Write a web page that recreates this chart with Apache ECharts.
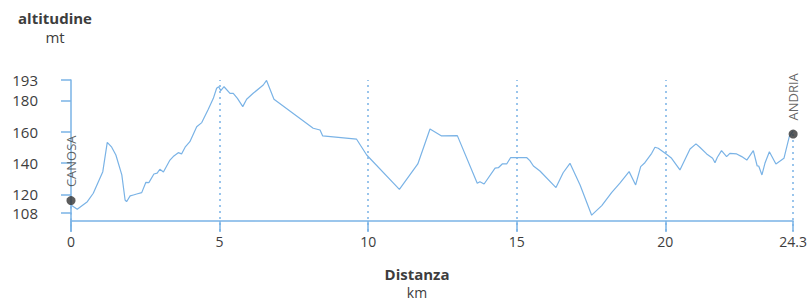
<!DOCTYPE html>
<html>
<head>
<meta charset="utf-8">
<script src="https://cdn.jsdelivr.net/npm/echarts@6/dist/echarts.min.js"></script>
<style>
html,body{margin:0;padding:0;background:#fff;}
#chart{width:810px;height:300px;}
</style>
</head>
<body>
<div id="chart"></div>
<script>
// distance (km) along the route
const distanceKm = [0,0.21,0.55,0.75,1.07,1.22,1.37,1.51,1.71,1.82,1.87,1.99,2.10,2.21,2.38,2.52,2.62,2.79,2.90,2.99,3.11,3.33,3.44,3.61,3.72,3.84,4.00,4.23,4.40,4.62,4.79,4.90,4.97,5.04,5.15,5.35,5.46,5.60,5.78,5.91,6.13,6.47,6.58,6.83,8.15,8.38,8.47,9.61,9.95,11.05,11.67,12.08,12.47,13.00,13.67,13.76,13.90,14.27,14.38,14.51,14.66,14.79,15.33,15.44,15.56,15.78,16.32,16.56,16.79,17.13,17.52,17.86,18.19,18.47,18.78,19.00,19.17,19.31,19.54,19.65,19.76,20.04,20.21,20.49,20.83,21.03,21.16,21.39,21.59,21.67,21.75,21.89,22.06,22.17,22.40,22.57,22.74,22.96,23.09,23.14,23.25,23.35,23.50,23.72,23.99,24.17,24.30];
// altitude (m)
const altitudeM = [113.2,110.5,115.3,120.7,134.5,153.2,150.1,145.1,132.4,116.4,115.3,119.0,119.6,120.2,121.1,127.7,127.5,133.0,133.5,136.0,134.3,141.9,144.1,146.6,145.8,150.1,153.6,163.2,165.8,174.3,181.3,187.7,188.7,186.2,188.7,184.5,184.5,181.3,176.0,180.7,184.5,189.8,192.7,180.7,162.2,161.1,157.3,155.2,145.1,123.2,139.4,161.7,157.3,157.5,127.1,128.1,126.6,136.7,137.0,139.4,139.4,143.4,143.5,141.5,138.1,134.9,124.3,133.8,139.8,126.0,106.7,112.8,121.1,127.1,134.5,126.0,137.7,140.2,146.2,150.1,149.4,145.6,143.0,135.6,149.0,152.2,150.1,145.8,143.0,140.2,143.7,147.9,144.1,146.2,145.8,144.1,141.9,147.9,138.1,138.1,132.4,139.8,147.2,139.4,143.0,156.8,160.5];
// tick values and labels
const xTicks = [0,5,10,15,20,24.3];
const xTickLabels = ['0','5','10','15','20','24.3'];
const yTicks = [108,120,140,160,180,193];
// gridline positions (km)
const gridKm = [5,10,15,20];
// towns
const towns = ['CANOSA','ANDRIA'];
const townKm = [0,24.3];
const townAlt = [116,158.5];

const BLUE = '#7ab3e6';
const TEXT = '#3d3d3d';
const FONT = '"Open Sans", Lato, sans-serif';
const Y_MIN = 96.6, Y_MAX = 193;

const chart = echarts.init(document.getElementById('chart'), null, {renderer:'svg'});
const lineData = distanceKm.map((d,i)=>[d,altitudeM[i]]);

const markData = gridKm.map(k=>({xAxis:k}));
townKm.forEach((k,i)=>{
  markData.push([{coord:[k,townAlt[i]]},{coord:[k,Y_MIN]}]);
});

function txt(text, x, y, bold, size){
  return {type:'text',x:x,y:y,style:{text:text,fontSize:size,lineHeight:size,fontWeight:bold?'bold':'normal',fontFamily:FONT,fill:TEXT,align:'center',verticalAlign:'middle'}};
}

chart.setOption({
  animation:false,
  backgroundColor:'#fff',
  grid:{left:71,right:16,top:80,bottom:69},
  graphic:[
    txt('altitudine',55,18,true,15),
    txt('mt',55,37,false,15),
    txt('Distanza',417,274,true,15),
    txt('km',417,292,false,14)
  ],
  xAxis:{
    type:'value',min:0,max:24.3,
    offset:-10,
    axisLine:{onZero:false,lineStyle:{color:BLUE,width:1.5}},
    axisTick:{show:true,length:11,lineStyle:{color:BLUE,width:1.5},customValues:xTicks},
    axisLabel:{customValues:xTicks,formatter:(v)=>xTickLabels[xTicks.indexOf(v)] ?? '',color:TEXT,fontSize:14,fontFamily:FONT,margin:13},
    splitLine:{show:false}
  },
  yAxis:{
    type:'value',min:Y_MIN,max:Y_MAX,
    offset:17,
    axisLine:{show:true,lineStyle:{color:BLUE,width:1.5}},
    axisTick:{show:true,length:10,lineStyle:{color:BLUE,width:1.5},customValues:yTicks},
    axisLabel:{customValues:yTicks,color:TEXT,fontSize:15,fontFamily:FONT,margin:16},
    splitLine:{show:false}
  },
  series:[
    {
      type:'line',data:lineData,showSymbol:false,symbol:'none',
      lineStyle:{color:BLUE,width:1.2},
      markLine:{
        silent:true,symbol:['none','none'],
        label:{show:false},
        lineStyle:{color:BLUE,type:[2,4],width:1.5},
        data:markData
      },
      z:3
    },
    {
      type:'scatter',
      data:towns.map((n,i)=>({name:n,value:[townKm[i],townAlt[i]]})),
      symbolSize:9,
      itemStyle:{color:'#333'},
      label:{show:true,formatter:'{b}',position:'top',distance:9,rotate:90,align:'left',verticalAlign:'middle',color:TEXT,fontSize:13,fontFamily:FONT},
      z:5
    }
  ]
});
</script>
</body>
</html>
